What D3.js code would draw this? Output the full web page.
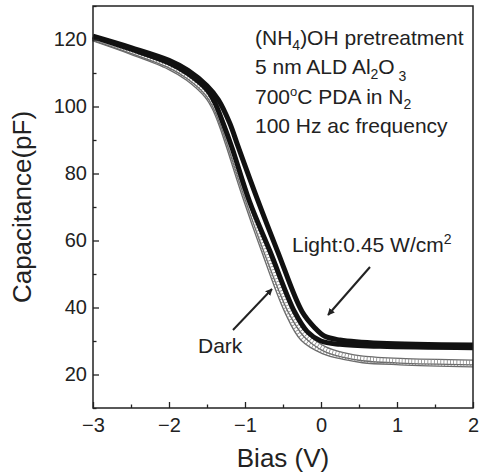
<!DOCTYPE html>
<html>
<head>
<meta charset="utf-8">
<script src="https://cdn.jsdelivr.net/npm/d3@7"></script>
<style>
  body { margin: 0; background: #fff; }
  svg { font-family: "Liberation Sans", Arial, sans-serif; }
</style>
</head>
<body>
<svg id="chart" width="479" height="474"></svg>
<script>
// bias (V) and capacitance (pF)
var darkBias1 = [-3, -2.5, -2.0, -1.75, -1.5, -1.4, -1.31, -1.22, -1.0, -0.76, -0.45, -0.24, 0.03, 0.32, 0.55, 1.04, 2.0];
var darkCap1  = [120.3, 116.3, 111.8, 108.4, 103.2, 99.5, 94.5, 88.5, 73.0, 57.5, 39.0, 30.7, 26.9, 25.1, 24.2, 23.6, 23.0];

var darkBias2 = [-3, -2.5, -2.0, -1.75, -1.5, -1.4, -1.3, -1.2, -0.97, -0.72, -0.40, -0.2, 0.05, 0.32, 0.55, 1.04, 2.0];
var darkCap2  = [120.5, 116.6, 112.3, 109.0, 104.0, 100.4, 95.0, 88.5, 72.5, 56.7, 38.8, 31.8, 27.6, 25.7, 24.8, 24.1, 23.6];

var lightBias1 = [-3, -2.5, -2.0, -1.75, -1.5, -1.35, -1.2, -1.09, -0.84, -0.57, -0.25, -0.08, 0.05, 0.25, 0.78, 2.0];
var lightCap1  = [121.0, 117.6, 113.8, 110.8, 106.2, 102.0, 95.0, 88.0, 72.5, 56.7, 38.8, 33.9, 31.4, 30.3, 29.3, 28.8];

var lightBias2 = [-3, -2.5, -2.0, -1.75, -1.5, -1.4, -1.28, -1.17, -0.94, -0.67, -0.35, -0.18, 0.0, 0.25, 0.78, 2.0];
var lightCap2  = [120.8, 117.1, 113.0, 109.8, 105.0, 101.3, 94.5, 87.6, 71.6, 56.7, 38.8, 32.8, 30.0, 29.0, 28.4, 28.0];

var xTicks = [-3, -2, -1, 0, 1, 2];
var yTicks = [20, 40, 60, 80, 100, 120];

var svg = d3.select("#chart"),
    margin = { top: 6, right: 6, bottom: 66, left: 93 },
    width = +svg.attr("width") - margin.left - margin.right,
    height = +svg.attr("height") - margin.top - margin.bottom;

var x = d3.scaleLinear().domain([-3, 2]).range([0, width]),
    y = d3.scaleLinear().domain([10, 130]).range([height, 0]);

var g = svg.append("g")
    .attr("transform", "translate(" + margin.left + "," + margin.top + ")");

function toPoints(bias, cap) {
    return bias.map(function (b, i) { return [b, cap[i]]; });
}

var line = d3.line()
    .x(function (d) { return x(d[0]); })
    .y(function (d) { return y(d[1]); })
    .curve(d3.curveCatmullRom.alpha(0.5));

// dark sweeps: open squares, drawn as a hollow ladder band
[toPoints(darkBias1, darkCap1), toPoints(darkBias2, darkCap2)].forEach(function (pts) {
    g.append("path").attr("d", line(pts))
        .attr("fill", "none").attr("stroke", "#6a6a6a").attr("stroke-width", 6);
    g.append("path").attr("d", line(pts))
        .attr("fill", "none").attr("stroke", "#fff").attr("stroke-width", 3.4);
    g.append("path").attr("d", line(pts))
        .attr("fill", "none").attr("stroke", "#888").attr("stroke-width", 4.5)
        .attr("stroke-dasharray", "0.8 2.4");
});

// light sweeps: filled squares
[toPoints(lightBias1, lightCap1), toPoints(lightBias2, lightCap2)].forEach(function (pts) {
    g.append("path").attr("d", line(pts))
        .attr("fill", "none").attr("stroke", "#111").attr("stroke-width", 5);
});

// axes, ticks inward
var minorX = d3.range(-2.5, 2, 1),
    minorY = d3.range(10, 131, 20);

g.append("g")
    .attr("transform", "translate(0," + height + ")")
    .call(d3.axisBottom(x).tickValues(xTicks).tickSize(-6).tickPadding(10).tickFormat(d3.format("d")))
    .call(function (a) { a.select(".domain").remove(); });

g.append("g")
    .attr("transform", "translate(0," + height + ")")
    .call(d3.axisBottom(x).tickValues(minorX).tickSize(-3.5).tickFormat(""))
    .call(function (a) { a.select(".domain").remove(); });

g.append("g")
    .call(d3.axisLeft(y).tickValues(yTicks).tickSize(-6).tickPadding(6).tickFormat(d3.format("d")))
    .call(function (a) { a.select(".domain").remove(); });

g.append("g")
    .call(d3.axisLeft(y).tickValues(minorY).tickSize(-3.5).tickFormat(""))
    .call(function (a) { a.select(".domain").remove(); });

g.selectAll(".tick line").attr("stroke", "#222").attr("stroke-width", 1.3);
g.selectAll(".tick text").attr("font-size", 20).attr("fill", "#222")
    .attr("font-family", "Liberation Sans, Arial, sans-serif");

g.append("rect")
    .attr("width", width).attr("height", height)
    .attr("fill", "none").attr("stroke", "#222").attr("stroke-width", 1.5);

// axis titles
svg.append("text")
    .attr("x", margin.left + x(-0.5)).attr("y", 467)
    .attr("text-anchor", "middle").attr("font-size", 26).attr("fill", "#222")
    .text("Bias (V)");

svg.append("text")
    .attr("transform", "translate(31,207) rotate(-90)")
    .attr("text-anchor", "middle").attr("font-size", 26).attr("fill", "#222")
    .text("Capacitance(pF)");

// condition notes
var notes = svg.append("g").attr("font-size", 21).attr("fill", "#222");

var t1 = notes.append("text").attr("x", 255).attr("y", 45);
t1.append("tspan").text("(NH");
t1.append("tspan").attr("dy", 5).attr("font-size", 14).text("4");
t1.append("tspan").attr("dy", -5).text(")OH pretreatment");

var t2 = notes.append("text").attr("x", 255).attr("y", 74);
t2.append("tspan").text("5 nm ALD Al");
t2.append("tspan").attr("dy", 5).attr("font-size", 14).text("2");
t2.append("tspan").attr("dy", -5).text("O");
t2.append("tspan").attr("dy", 7).attr("font-size", 14).text(" 3");

var t3 = notes.append("text").attr("x", 255).attr("y", 104);
t3.append("tspan").text("700");
t3.append("tspan").attr("dy", -8).attr("font-size", 13).text("o");
t3.append("tspan").attr("dy", 8).text("C PDA in N");
t3.append("tspan").attr("dy", 5).attr("font-size", 14).text("2");

notes.append("text").attr("x", 255).attr("y", 133).text("100 Hz ac frequency");

var t5 = notes.append("text").attr("x", 292).attr("y", 252);
t5.append("tspan").text("Light:0.45 W/cm");
t5.append("tspan").attr("dy", -8).attr("font-size", 14).text("2");

notes.append("text").attr("x", 198).attr("y", 353).text("Dark");

// arrows
svg.append("defs").append("marker")
    .attr("id", "head").attr("viewBox", "0 0 10 10")
    .attr("refX", 9).attr("refY", 5)
    .attr("markerWidth", 7).attr("markerHeight", 7)
    .attr("markerUnits", "userSpaceOnUse")
    .attr("orient", "auto")
    .append("path").attr("d", "M0,0 L10,5 L0,10 Z").attr("fill", "#222");

svg.append("line")
    .attr("x1", 370).attr("y1", 267).attr("x2", 328).attr("y2", 315)
    .attr("stroke", "#222").attr("stroke-width", 2).attr("marker-end", "url(#head)");

svg.append("line")
    .attr("x1", 233).attr("y1", 330).attr("x2", 272).attr("y2", 289)
    .attr("stroke", "#222").attr("stroke-width", 2).attr("marker-end", "url(#head)");
</script>
</body>
</html>
